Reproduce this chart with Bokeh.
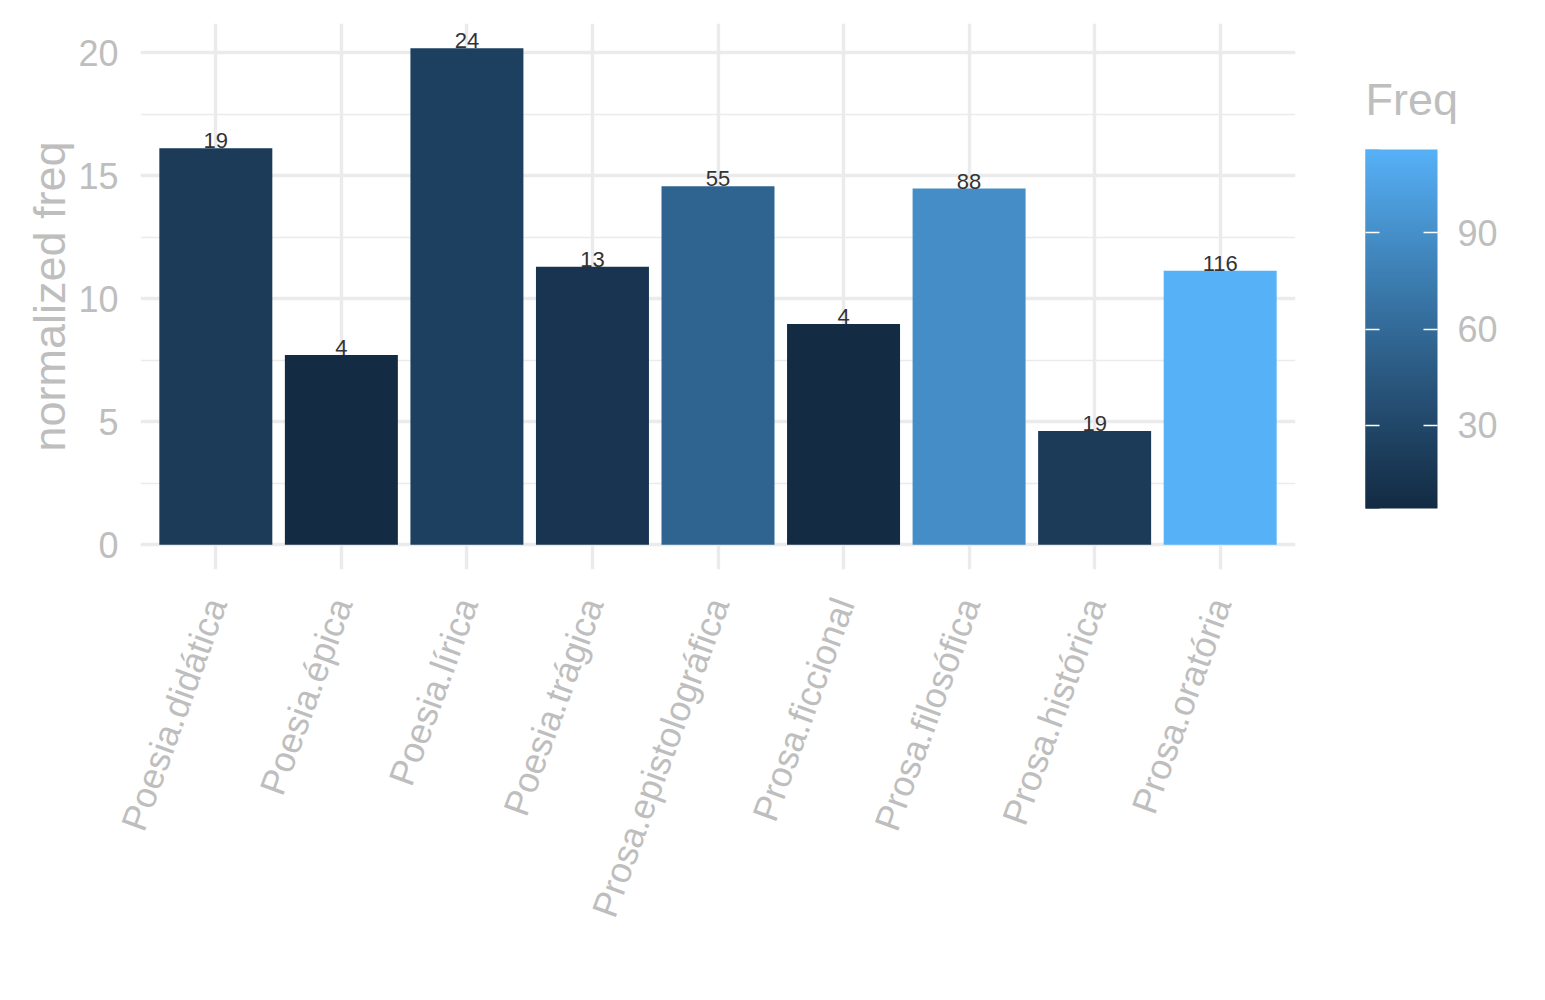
import math
import numpy as np
from bokeh.plotting import figure
from bokeh.models import (ColumnDataSource, FactorRange, Range1d, LinearColorMapper,
                          ColorBar, FixedTicker)
from bokeh.embed import file_html
from bokeh.resources import INLINE
from bokeh.core.properties import value

# ---------------- data ----------------
categories = ["Poesia.didática", "Poesia.épica", "Poesia.lírica", "Poesia.trágica",
              "Prosa.epistolográfica", "Prosa.ficcional", "Prosa.filosófica",
              "Prosa.histórica", "Prosa.oratória"]
normalized_freq = [16.11, 7.71, 20.17, 11.29, 14.56, 8.97, 14.47, 4.62, 11.13]
freq = [19, 4, 24, 13, 55, 4, 88, 19, 116]
y_ticks = [0, 5, 10, 15, 20]
y_minor_ticks = [2.5, 7.5, 12.5, 17.5]
colorbar_ticks = [30, 60, 90]
low_color = "#132B43"
high_color = "#56B1F7"

FONT = "Liberation Sans"
GREY = "#BEBEBE"
GRID = "#EBEBEB"

# ------------- Lab colour ramp (ggplot2 style) -------------
WHITE = (0.95047, 1.0, 1.08883)


def _hex_to_rgb(h):
    h = h.lstrip("#")
    return [int(h[i:i + 2], 16) / 255.0 for i in (0, 2, 4)]


def _lin(c):
    return c / 12.92 if c <= 0.04045 else ((c + 0.055) / 1.055) ** 2.4


def _delin(c):
    c = max(0.0, min(1.0, c))
    return 12.92 * c if c <= 0.0031308 else 1.055 * c ** (1 / 2.4) - 0.055


def _f(t):
    d = 6 / 29
    return t ** (1 / 3) if t > d ** 3 else t / (3 * d * d) + 4 / 29


def _finv(t):
    d = 6 / 29
    return t ** 3 if t > d else 3 * d * d * (t - 4 / 29)


def hex_to_lab(h):
    r, g, b = [_lin(c) for c in _hex_to_rgb(h)]
    X = 0.4124564 * r + 0.3575761 * g + 0.1804375 * b
    Y = 0.2126729 * r + 0.7151522 * g + 0.0721750 * b
    Z = 0.0193339 * r + 0.1191920 * g + 0.9503041 * b
    fx, fy, fz = _f(X / WHITE[0]), _f(Y / WHITE[1]), _f(Z / WHITE[2])
    return (116 * fy - 16, 500 * (fx - fy), 200 * (fy - fz))


def lab_to_hex(L, a, b):
    fy = (L + 16) / 116
    fx = fy + a / 500
    fz = fy - b / 200
    X, Y, Z = WHITE[0] * _finv(fx), WHITE[1] * _finv(fy), WHITE[2] * _finv(fz)
    r = 3.2404542 * X - 1.5371385 * Y - 0.4985314 * Z
    g = -0.9692660 * X + 1.8760108 * Y + 0.0415560 * Z
    bb = 0.0556434 * X - 0.2040259 * Y + 1.0572252 * Z
    return "#%02x%02x%02x" % tuple(int(round(_delin(c) * 255)) for c in (r, g, bb))


LAB_LO = hex_to_lab(low_color)
LAB_HI = hex_to_lab(high_color)


def ramp(t):
    t = max(0.0, min(1.0, t))
    return lab_to_hex(*[lo + (hi - lo) * t for lo, hi in zip(LAB_LO, LAB_HI)])


fmin, fmax = min(freq), max(freq)
bar_colors = [ramp((f - fmin) / (fmax - fmin)) for f in freq]
palette = [ramp(i / 255) for i in range(256)]

source = ColumnDataSource(dict(cat=categories, val=normalized_freq,
                               label=[str(f) for f in freq], color=bar_colors))

ymax_data = max(normalized_freq)
y_range = Range1d(-0.05 * ymax_data, ymax_data * 1.05)

p = figure(x_range=FactorRange(factors=categories, range_padding=0.1,
                               range_padding_units="absolute", factor_padding=0),
           y_range=y_range, frame_width=1155, frame_height=546,
           output_backend="svg", toolbar_location=None,
           min_border_left=140, min_border_top=23, min_border_right=240,
           min_border_bottom=420)
p.outline_line_color = None
p.background_fill_color = "white"
p.border_fill_color = "white"

# grid
p.xgrid.grid_line_color = GRID
p.xgrid.grid_line_width = 3.4
p.ygrid.ticker = FixedTicker(ticks=y_ticks, minor_ticks=y_minor_ticks)
p.ygrid.grid_line_color = GRID
p.ygrid.grid_line_width = 3.4
p.ygrid.minor_grid_line_color = GRID
p.ygrid.minor_grid_line_width = 1.7

# axes
for ax in (p.xaxis[0], p.yaxis[0]):
    ax.axis_line_color = None
    ax.major_tick_line_color = None
    ax.minor_tick_line_color = None
    ax.major_tick_out = 0
    ax.major_tick_in = 0
    ax.major_label_text_color = GREY
    ax.major_label_text_font = FONT
    ax.major_label_text_font_size = "36px"

p.yaxis.ticker = FixedTicker(ticks=y_ticks)
p.yaxis.major_label_standoff = 22
p.yaxis.axis_label = "normalized freq"
p.yaxis.axis_label_text_font = FONT
p.yaxis.axis_label_text_font_size = "45px"
p.yaxis.axis_label_text_font_style = "normal"
p.yaxis.axis_label_text_color = GREY
p.yaxis.axis_label_standoff = 0

p.xaxis.major_label_orientation = math.radians(70)
p.xaxis.major_label_standoff = 30

# bars and labels
p.vbar(x="cat", top="val", width=0.9, source=source, fill_color="color",
       line_color=None)
p.text(x="cat", y="val", text="label", source=source, text_align="center",
       text_baseline="bottom", y_offset=0, text_font_size="22px",
       text_color="#333333", text_font=value(FONT))

# colour bar guide (right of the panel, like ggplot's)
mapper = LinearColorMapper(palette=palette, low=fmin, high=fmax)
common = dict(color_mapper=mapper, height=359, ticker=FixedTicker(ticks=colorbar_ticks),
              major_tick_line_color="white", major_tick_line_width=1.5,
              major_tick_in=14, major_tick_out=0, minor_tick_line_color=None,
              bar_line_color=None, border_line_color=None,
              background_fill_color=None, padding=0, margin=0,
              major_label_text_font=FONT, major_label_text_font_size="36px",
              label_standoff=20, location=(1225, 61))
cb = ColorBar(width=72, major_label_text_color=GREY, **common)
p.add_layout(cb)
# left-hand tick stubs (ggplot draws ticks on both sides of the bar)
cb_left = ColorBar(width=14, major_label_text_alpha=0.0, **common)
p.add_layout(cb_left)

# guide title "Freq" (a horizontal colour bar whose scale is invisible)
cb_title = ColorBar(color_mapper=mapper, orientation="horizontal", width=72, height=1,
                    scale_alpha=0.0, ticker=FixedTicker(ticks=[]),
                    major_tick_line_color=None, minor_tick_line_color=None,
                    major_label_text_alpha=0.0, bar_line_color=None,
                    border_line_color=None, background_fill_color=None,
                    padding=0, margin=0, label_standoff=0,
                    title="Freq", title_text_font=FONT, title_text_font_size="45px",
                    title_text_color=GREY, title_text_font_style="normal",
                    title_standoff=0, location=(1225, 444))
p.add_layout(cb_title)

open("out.html", "w").write(file_html(p, INLINE))
